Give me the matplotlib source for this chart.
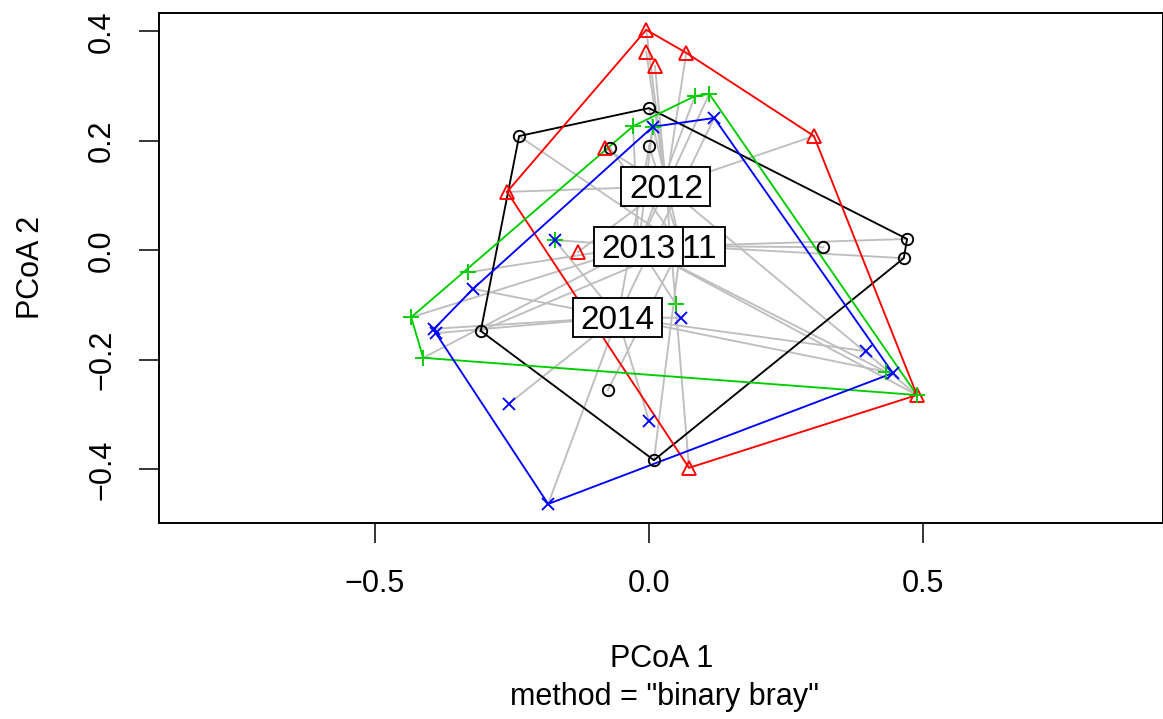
import matplotlib.pyplot as plt
import numpy as np
from matplotlib.patches import Rectangle
from matplotlib.transforms import ScaledTranslation

plt.rcParams['font.family'] = ['Liberation Sans', 'DejaVu Sans']

# Coordenadas PCoA por año (sitios) y centroides
grupos = ["2011", "2012", "2013", "2014"]

x_2011 = [0.000, -0.237, -0.071, 0.000, 0.471, 0.465, 0.318, -0.307, -0.075, 0.009]
y_2011 = [0.260, 0.209, 0.187, 0.191, 0.021, -0.014, 0.006, -0.147, -0.255, -0.383]

x_2012 = [-0.005, -0.005, 0.011, 0.068, -0.080, -0.259, -0.130, 0.301, 0.489, 0.073]
y_2012 = [0.403, 0.363, 0.337, 0.361, 0.187, 0.107, -0.003, 0.209, -0.264, -0.397]

x_2013 = [0.084, 0.110, -0.029, 0.007, -0.172, -0.330, -0.434, -0.412, 0.049, 0.433, 0.489]
y_2013 = [0.282, 0.286, 0.227, 0.226, 0.019, -0.040, -0.122, -0.196, -0.098, -0.222, -0.264]

x_2014 = [0.119, 0.007, -0.172, -0.321, -0.389, -0.392, -0.256, 0.000, -0.184, 0.058, 0.396, 0.445]
y_2014 = [0.242, 0.226, 0.019, -0.070, -0.151, -0.143, -0.280, -0.311, -0.463, -0.123, -0.184, -0.224]

cent_x = [0.058, 0.031, -0.019, -0.057]
cent_y = [0.008, 0.117, 0.008, -0.122]

xs = [x_2011, x_2012, x_2013, x_2014]
ys = [y_2011, y_2012, y_2013, y_2014]
colores = ["black", "#FF0000", "#00CD00", "#0000FF"]
marcadores = ["o", "^", "+", "x"]
tam_marc = [8.2, 10, 11, 9]

xticks = [-0.5, 0.0, 0.5]
xticklabels = ["\u22120.5", "0.0", "0.5"]
yticks = [-0.4, -0.2, 0.0, 0.2, 0.4]
yticklabels = ["\u22120.4", "\u22120.2", "0.0", "0.2", "0.4"]
xlim = [-0.8936, 0.938]
ylim = [-0.4972, 0.4343]


def envolvente(px, py):
    # casco convexo (cadena monótona)
    pts = sorted(set(zip(px, py)))
    def cruz(o, a, b):
        return (a[0] - o[0]) * (b[1] - o[1]) - (a[1] - o[1]) * (b[0] - o[0])
    inf = []
    for p in pts:
        while len(inf) >= 2 and cruz(inf[-2], inf[-1], p) <= 0:
            inf.pop()
        inf.append(p)
    sup = []
    for p in reversed(pts):
        while len(sup) >= 2 and cruz(sup[-2], sup[-1], p) <= 0:
            sup.pop()
        sup.append(p)
    casco = inf[:-1] + sup[:-1]
    casco.append(casco[0])
    return np.array(casco)


fig = plt.figure(figsize=(11.63, 7.19), dpi=100)
ax = fig.add_axes([159.3 / 1163, 1 - 522.7 / 719, (1163 - 159.3) / 1163, 510 / 719])

for i in range(len(grupos)):
    for xp, yp in zip(xs[i], ys[i]):
        ax.plot([cent_x[i], xp], [cent_y[i], yp], color="#BEBEBE", lw=1.35, zorder=1)
    h = envolvente(xs[i], ys[i])
    ax.plot(h[:, 0], h[:, 1], color=colores[i], lw=1.35, zorder=2)

for i in range(len(grupos)):
    ax.plot(xs[i], ys[i], ls="none", marker=marcadores[i], ms=tam_marc[i],
            mfc="none", mec=colores[i], mew=1.35, zorder=3)

# etiquetas de centroides (cada caja con su texto, en orden)
for i in range(len(grupos)):
    trans = fig.dpi_scale_trans + ScaledTranslation(cent_x[i], cent_y[i], ax.transData)
    ax.add_patch(Rectangle((-0.445, -0.195), 0.89, 0.39, transform=trans,
                           facecolor="white", edgecolor="black", lw=1.35, zorder=4 + 2 * i))
    ax.text(cent_x[i], cent_y[i], grupos[i], ha="center", va="center_baseline",
            fontsize=24, zorder=5 + 2 * i)

ax.set_xlim(xlim)
ax.set_ylim(ylim)
ax.set_xticks(xticks)
ax.set_xticklabels(xticklabels)
ax.set_yticks(yticks)
ax.set_yticklabels(yticklabels, rotation=90, va="center")
ax.tick_params(length=14.4, width=1.1, labelsize=22, pad=19)
ax.tick_params(axis="y", pad=16)
for s in ax.spines.values():
    s.set_linewidth(1.4)

fig.text(662 / 1163, 1 - 659 / 719, "PCoA 1", ha="center", va="center", fontsize=22)
fig.text(664 / 1163, 1 - 697 / 719, 'method = "binary bray"', ha="center", va="center", fontsize=22)
fig.text(31 / 1163, 1 - 267 / 719, "PCoA 2", ha="center", va="center", rotation=90, fontsize=22)

fig.savefig("out.png", dpi=100)
